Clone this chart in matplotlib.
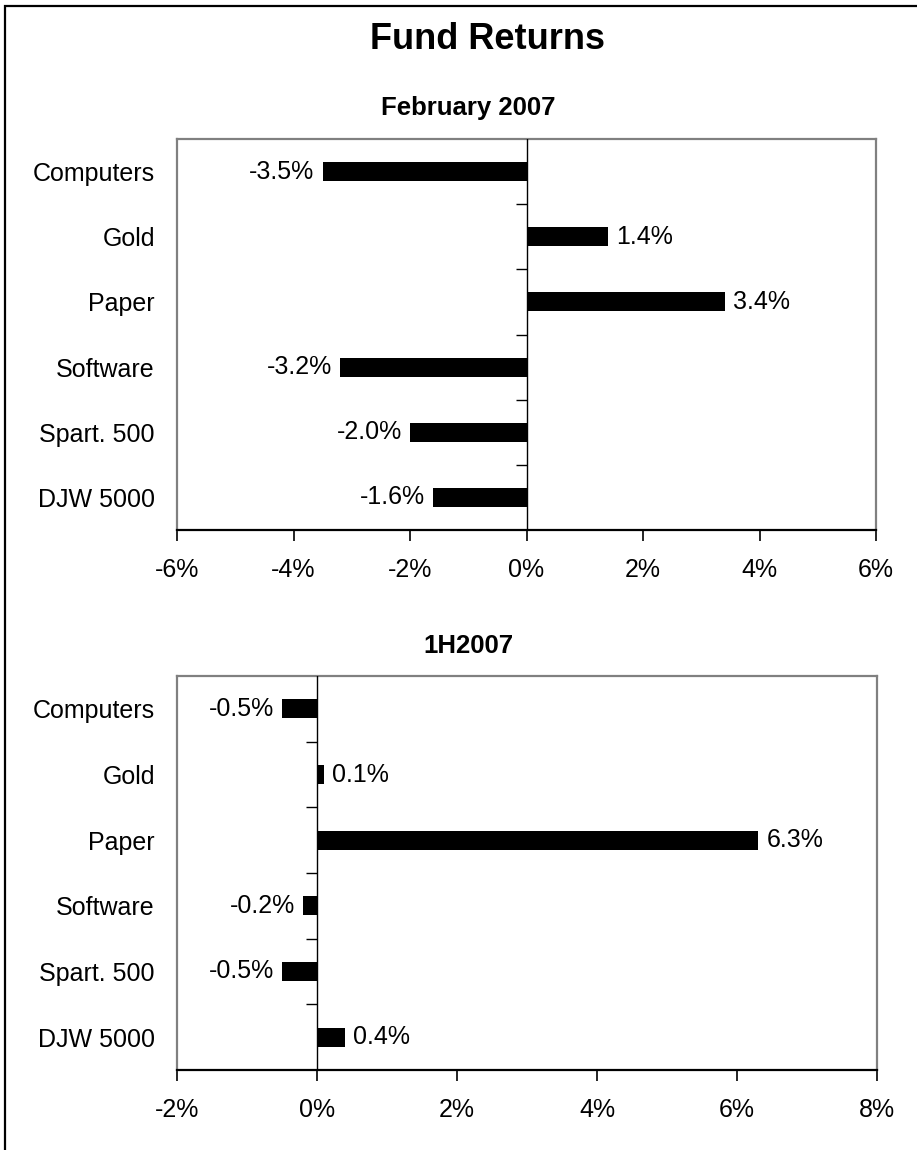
import matplotlib
matplotlib.use("Agg")
import matplotlib.pyplot as plt
from matplotlib.ticker import FuncFormatter, FixedLocator
from matplotlib.patches import Rectangle
import numpy as np

plt.rcParams['font.family'] = ['Liberation Sans', 'DejaVu Sans']
plt.rcParams['axes.unicode_minus'] = False

categories = ["Computers", "Gold", "Paper", "Software", "Spart. 500", "DJW 5000"]
feb_2007 = [-3.5, 1.4, 3.4, -3.2, -2.0, -1.6]
h1_2007 = [-0.5, 0.1, 6.3, -0.2, -0.5, 0.4]
feb_ticks = [-6, -4, -2, 0, 2, 4, 6]
h1_ticks = [-2, 0, 2, 4, 6, 8]

W, H = 917, 1150
fig = plt.figure(figsize=(W / 100, H / 100), dpi=100)

# outer border (extends beyond right/bottom edges like the reference)
fig.patches.append(Rectangle((5 / W, -0.1), 1.2, 1.1 - 6 / H,
                             transform=fig.transFigure, fill=False,
                             edgecolor='black', linewidth=1.6, zorder=0))

fig.text(487 / W, 1 - 49 / H, "Fund Returns", ha='center', va='baseline',
         fontsize=26, fontweight='bold')

def panel(rect, values, ticks, title, title_base):
    ax = fig.add_axes(rect)
    y = np.arange(len(categories))
    bars = ax.barh(y, values, height=0.29, color='black', zorder=3)
    ax.set_ylim(len(categories) - 0.5, -0.5)
    ax.set_xlim(ticks[0], ticks[-1])
    ax.set_yticks(y)
    ax.set_yticklabels(categories, fontsize=18)
    ax.tick_params(axis='y', length=0, pad=16)
    ax.xaxis.set_major_locator(FixedLocator(ticks))
    ax.xaxis.set_major_formatter(FuncFormatter(lambda v, p: f"{v:.0f}%"))
    ax.tick_params(axis='x', direction='out', length=8, width=1.2,
                   labelsize=18, pad=12)
    for s in ['left', 'top', 'right']:
        ax.spines[s].set_color('#808080')
        ax.spines[s].set_linewidth(1.6)
    ax.spines['bottom'].set_color('black')
    ax.spines['bottom'].set_linewidth(1.6)
    ax.axvline(0, color='black', linewidth=1.0, zorder=4)
    sec = ax.secondary_yaxis(0, transform=ax.transData)
    sec.set_yticks(np.arange(len(categories) - 1) + 0.5)
    sec.set_yticklabels([])
    sec.tick_params(direction='out', length=8, width=1.0, color='black')
    sec.spines['left'].set_visible(False)
    ax.bar_label(bars, labels=[f"{v:.1f}%" for v in values], padding=6,
                 fontsize=18)
    fig.text(468 / W, 1 - title_base / H, title, ha='center', va='baseline',
             fontsize=18.5, fontweight='bold')
    return ax

panel([177 / W, 1 - 530 / H, 699 / W, 391 / H], feb_2007, feb_ticks,
      "February 2007", 115)
panel([177 / W, 1 - 1070 / H, 700 / W, 394 / H], h1_2007, h1_ticks,
      "1H2007", 653)

fig.savefig("out.png", dpi=100)
